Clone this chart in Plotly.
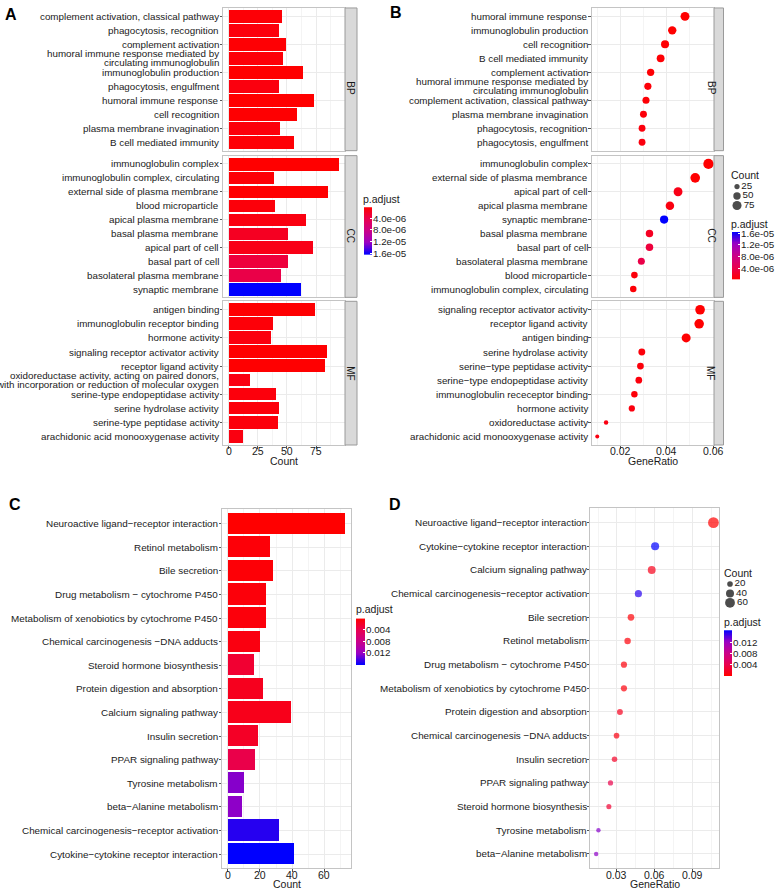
import numpy as np
import plotly.graph_objects as go

W, H = 777, 893
FONT = "Liberation Sans, Arial, Helvetica, sans-serif"
TXT = "#1a1a1a"

# ---------------- Panel A data (GO enrichment, bar) ----------------
a_bp_terms = ["complement activation, classical pathway", "phagocytosis, recognition",
              "complement activation",
              "humoral immune response mediated by<br>circulating immunoglobulin",
              "immunoglobulin production", "phagocytosis, engulfment", "humoral immune response",
              "cell recognition", "plasma membrane invagination", "B cell mediated immunity"]
a_bp_count = [46, 43, 49, 47, 64, 43, 73, 59, 44, 56]
a_bp_padj = [6e-7, 9e-7, 5e-7, 7e-7, 3.2e-7, 1.0e-6, 3.0e-7, 4e-7, 8e-7, 5.5e-7]

a_cc_terms = ["immunoglobulin complex", "immunoglobulin complex, circulating",
              "external side of plasma membrane", "blood microparticle", "apical plasma membrane",
              "basal plasma membrane", "apical part of cell", "basal part of cell",
              "basolateral plasma membrane", "synaptic membrane"]
a_cc_count = [95, 39, 85, 40, 66, 51, 72, 51, 45, 62]
a_cc_padj = [3.0e-7, 6e-7, 3.5e-7, 8e-7, 1.1e-6, 2.0e-6, 1.4e-6, 3.3e-6, 3.9e-6, 1.64e-5]

a_mf_terms = ["antigen binding", "immunoglobulin receptor binding", "hormone activity",
              "signaling receptor activator activity", "receptor ligand activity",
              "oxidoreductase activity, acting on paired donors,<br>with incorporation or reduction of molecular oxygen",
              "serine-type endopeptidase activity", "serine hydrolase activity",
              "serine-type peptidase activity", "arachidonic acid monooxygenase activity"]
a_mf_count = [74, 38, 36, 84, 83, 18, 41, 43, 42, 12]
a_mf_padj = [4e-7, 7e-7, 1.0e-6, 3.5e-7, 3.6e-7, 1.2e-6, 9e-7, 8e-7, 8.5e-7, 1.1e-6]

# ---------------- Panel B data (GO enrichment, dot) ----------------
b_bp_terms = ["humoral immune response", "immunoglobulin production", "cell recognition",
              "B cell mediated immunity", "complement activation",
              "humoral immune response mediated by<br>circulating immunoglobulin",
              "complement activation, classical pathway", "plasma membrane invagination",
              "phagocytosis, recognition", "phagocytosis, engulfment"]
b_bp_ratio = [0.0479, 0.0424, 0.0393, 0.0374, 0.0331, 0.0319, 0.0311, 0.0300, 0.0294, 0.0294]
b_bp_count = [73, 64, 59, 56, 49, 47, 46, 44, 43, 43]
b_bp_padj = [3.0e-7, 3.2e-7, 4e-7, 5.5e-7, 5e-7, 7e-7, 6e-7, 8e-7, 9e-7, 1.0e-6]

b_cc_terms = ["immunoglobulin complex", "external side of plasma membrance", "apical part of cell",
              "apical plasma membrane", "synaptic membrane", "basal plasma membrane",
              "basal part of cell", "basolateral plasma membrane", "blood microparticle",
              "immunoglobulin complex, circulating"]
b_cc_ratio = [0.0580, 0.0523, 0.0449, 0.0414, 0.0389, 0.0326, 0.0326, 0.0291, 0.0261, 0.0256]
b_cc_count = [95, 85, 72, 66, 62, 51, 51, 45, 40, 39]
b_cc_padj = [3.0e-7, 3.5e-7, 1.4e-6, 1.1e-6, 1.64e-5, 2.0e-6, 3.3e-6, 3.9e-6, 8e-7, 6e-7]

b_mf_terms = ["signaling receptor activator activity", "receptor ligand activity", "antigen binding",
              "serine hydrolase activity", "serine\u2212type peptidase activity",
              "serine\u2212type endopeptidase activity", "immunoglobulin receceptor binding",
              "hormone activity", "oxidoreductase activity", "arachidonic acid monooxygenase activity"]
b_mf_ratio = [0.0544, 0.0540, 0.0484, 0.0293, 0.0287, 0.0280, 0.0261, 0.0250, 0.0139, 0.0101]
b_mf_count = [84, 83, 74, 43, 42, 41, 38, 36, 18, 12]
b_mf_padj = [3.5e-7, 3.6e-7, 4e-7, 8e-7, 8.5e-7, 9e-7, 7e-7, 1.0e-6, 1.2e-6, 1.1e-6]

# ---------------- Panel C data (KEGG, bar) ----------------
c_terms = ["Neuroactive ligand\u2212receptor interaction", "Retinol metabolism", "Bile secretion",
           "Drug metabolism \u2212 cytochrome P450", "Metabolism of xenobiotics by cytochrome P450",
           "Chemical carcinogenesis \u2212DNA adducts", "Steroid hormone biosynthesis",
           "Protein digestion and absorption", "Calcium signaling pathway", "Insulin secretion",
           "PPAR signaling pathway", "Tyrosine metabolism", "beta\u2212Alanine metabolism",
           "Chemical carcinogenesis\u2212receptor activation", "Cytokine\u2212cytokine receptor interaction"]
c_count = [73, 26, 28, 24, 24, 20, 16, 22, 39, 19, 17, 10, 9, 32, 41]
c_padj = [1e-4, 5e-4, 4e-4, 6e-4, 6.5e-4, 9e-4, 2.6e-3, 1.6e-3, 1.4e-3, 2.0e-3, 3.8e-3,
          0.0127, 0.0125, 0.0152, 0.0162]

# ---------------- Panel D data (KEGG, dot) ----------------
d_terms = ["Neuroactive ligand\u2212receptor interaction", "Cytokine\u2212cytokine receptor interaction",
           "Calcium signaling pathway", "Chemical carcinogenesis\u2212receptor activation",
           "Bile secretion", "Retinol metabolism", "Drug metabolism \u2212 cytochrome P450",
           "Metabolism of xenobiotics by cytochrome P450", "Protein digestion and absorption",
           "Chemical carcinogenesis \u2212DNA adducts", "Insulin secretion", "PPAR signaling pathway",
           "Steroid hormone biosynthesis", "Tyrosine metabolism", "beta\u2212Alanine metabolism"]
d_ratio = [0.1068, 0.0604, 0.0577, 0.0471, 0.0412, 0.0385, 0.0356, 0.0356, 0.0324, 0.0297,
           0.0281, 0.0249, 0.0236, 0.0153, 0.0135]
d_count = [73, 41, 39, 32, 28, 26, 24, 24, 22, 20, 19, 17, 16, 10, 9]
d_padj = [1e-4, 0.0162, 1.4e-3, 0.0152, 4e-4, 5e-4, 6e-4, 6.5e-4, 1.6e-3, 9e-4, 2.0e-3, 3.8e-3,
          2.6e-3, 0.0127, 0.0125]

# ---------------- ticks / legend values ----------------
facet_names = ["BP", "CC", "MF"]
go_padj_ticks = [4e-6, 8e-6, 1.2e-5, 1.6e-5]
go_padj_ticktext = ["4.0e-06", "8.0e-06", "1.2e-05", "1.6e-05"]
kegg_padj_ticks = [0.004, 0.008, 0.012]
kegg_padj_ticktext = ["0.004", "0.008", "0.012"]
b_size_legend = [25, 50, 75]
d_size_legend = [20, 40, 60]
a_x_ticks = [0, 25, 50, 75]
b_x_ticks = [0.02, 0.04, 0.06]
c_x_ticks = [0, 20, 40, 60]
d_x_ticks = [0.03, 0.06, 0.09]

# ---------------- styling ----------------
CS = [[0, "#FF0000"], [0.25, "#E80050"], [0.5, "#CA0089"], [0.75, "#9A00C3"], [1, "#0000FF"]]
GRID = "#EBEBEB"
MINOR = "#F4F4F4"
BORDER = "#C4C4C4"


def X(px):
    return px / W


def Y(py):
    return 1 - py / H


fig = go.Figure()
layout = {}
annotations = []
shapes = []
counter = [0]


def new_axes(xpx, ypx, xkw, ykw):
    counter[0] += 1
    i = counter[0]
    sfx = "" if i == 1 else str(i)
    layout["xaxis" + sfx] = dict(domain=[X(xpx[0]), X(xpx[1])], anchor="y" + sfx, **xkw)
    layout["yaxis" + sfx] = dict(domain=[Y(ypx[1]), Y(ypx[0])], anchor="x" + sfx, **ykw)
    return "x" + sfx, "y" + sfx


def pad_range(lo, hi):
    d = (hi - lo) * 0.05
    return [lo - d, hi + d]


def xaxis_kw(rng, ticks, minor_dt, show_ticks):
    return dict(range=rng, tickvals=ticks, showgrid=True, gridcolor=GRID, gridwidth=1,
                minor=dict(dtick=minor_dt, tick0=0, showgrid=True, gridcolor=MINOR, gridwidth=1),
                zeroline=False, showline=True, mirror=True, linecolor=BORDER, linewidth=1,
                ticks="outside" if show_ticks else "", ticklen=2.5, tickcolor="#555",
                showticklabels=False)


def yaxis_kw(terms):
    n = len(terms)
    return dict(type="category", categoryorder="array", categoryarray=terms,
                range=[n - 1 + 0.6, -0.6], showgrid=True, gridcolor=GRID, gridwidth=1,
                zeroline=False, showline=True, mirror=True, linecolor=BORDER, linewidth=1,
                ticks="outside", ticklen=2.5, tickcolor="#555", showticklabels=False)


def category_labels(terms, yref, xpx, size):
    for i, t in enumerate(terms):
        parts = t.split("<br>")
        m = len(parts)
        for k, p in enumerate(parts):
            annotations.append(dict(text=p, xref="paper", yref=yref, x=X(xpx), y=i,
                                    xanchor="right", yanchor="middle", showarrow=False,
                                    borderpad=0, yshift=4.35 * (m - 1) - 8.7 * k,
                                    font=dict(size=size, color=TXT, family=FONT)))


def x_tick_labels(xref, ticks, cy):
    for v in ticks:
        annotations.append(dict(text=str(v), xref=xref, x=v, yref="paper", y=Y(cy),
                                xanchor="center", yanchor="middle", showarrow=False, borderpad=0,
                                font=dict(size=10.5, color=TXT, family=FONT)))


def strip(xpx, ypx, label):
    shapes.append(dict(type="rect", xref="paper", yref="paper", x0=X(xpx[0]), x1=X(xpx[1]),
                       y0=Y(ypx[1]), y1=Y(ypx[0]), fillcolor="#D9D9D9",
                       line=dict(color="#9A9A9A", width=1), layer="above"))
    annotations.append(dict(text=label, xref="paper", yref="paper", x=X((xpx[0] + xpx[1]) / 2),
                            y=Y((ypx[0] + ypx[1]) / 2), textangle=90, showarrow=False,
                            font=dict(size=10, color=TXT, family=FONT)))


facet_y = [(4, 148), (153, 296), (300, 445)]

# ---------------- Panel A ----------------
a_terms = [a_bp_terms, a_cc_terms, a_mf_terms]
a_counts = [a_bp_count, a_cc_count, a_mf_count]
a_padjs = [a_bp_padj, a_cc_padj, a_mf_padj]
go_all_padj = a_bp_padj + a_cc_padj + a_mf_padj
go_cmin, go_cmax = min(go_all_padj), max(go_all_padj)
a_range = pad_range(0, max(max(c) for c in a_counts))
for k in range(3):
    xr, yr = new_axes((223, 345), facet_y[k],
                      xaxis_kw(a_range, a_x_ticks, 12.5, k == 2), yaxis_kw(a_terms[k]))
    fig.add_trace(go.Bar(x=a_counts[k], y=a_terms[k], orientation="h", width=0.9,
                         marker=dict(color=a_padjs[k], colorscale=CS, cmin=go_cmin, cmax=go_cmax,
                                     line=dict(width=0)),
                         xaxis=xr, yaxis=yr, showlegend=False))
    category_labels(a_terms[k], yr, 220, 9.8)
    strip((345, 357), facet_y[k], facet_names[k])
    if k == 2:
        x_tick_labels(xr, a_x_ticks, 451)

# ---------------- Panel B ----------------
b_terms = [b_bp_terms, b_cc_terms, b_mf_terms]
b_ratios = [b_bp_ratio, b_cc_ratio, b_mf_ratio]
b_counts = [b_bp_count, b_cc_count, b_mf_count]
b_padjs = [b_bp_padj, b_cc_padj, b_mf_padj]
b_all_ratio = b_bp_ratio + b_cc_ratio + b_mf_ratio
b_range = pad_range(min(b_all_ratio), max(b_all_ratio))
b_maxc = max(max(c) for c in b_counts)
b_sref = 2.0 * b_maxc / (10.2 ** 2)
for k in range(3):
    xr, yr = new_axes((591.7, 714), facet_y[k],
                      xaxis_kw(b_range, b_x_ticks, 0.01, k == 2), yaxis_kw(b_terms[k]))
    fig.add_trace(go.Scatter(x=b_ratios[k], y=b_terms[k], mode="markers",
                             marker=dict(size=b_counts[k], sizemode="area", sizeref=b_sref, sizemin=2,
                                         color=b_padjs[k], colorscale=CS, cmin=go_cmin, cmax=go_cmax,
                                         line=dict(width=0), opacity=1),
                             xaxis=xr, yaxis=yr, showlegend=False, cliponaxis=False))
    category_labels(b_terms[k], yr, 589, 9.8)
    strip((714, 723.5), facet_y[k], facet_names[k])
    if k == 2:
        x_tick_labels(xr, b_x_ticks, 451)

# ---------------- Panel C ----------------
k_cmin, k_cmax = min(c_padj), max(c_padj)
c_range = pad_range(0, max(c_count))
xr, yr = new_axes((222, 351), (510, 872), xaxis_kw(c_range, c_x_ticks, 10, True), yaxis_kw(c_terms))
fig.add_trace(go.Bar(x=c_count, y=c_terms, orientation="h", width=0.9,
                     marker=dict(color=c_padj, colorscale=CS, cmin=k_cmin, cmax=k_cmax,
                                 line=dict(width=0)),
                     xaxis=xr, yaxis=yr, showlegend=False))
category_labels(c_terms, yr, 219, 9.9)
x_tick_labels(xr, c_x_ticks, 879)

# ---------------- Panel D ----------------
d_range = pad_range(min(d_ratio), max(d_ratio))
d_sref = 2.0 * max(d_count) / (10.8 ** 2)
xr, yr = new_axes((590.3, 719.3), (509, 872), xaxis_kw(d_range, d_x_ticks, 0.015, True), yaxis_kw(d_terms))
fig.add_trace(go.Scatter(x=d_ratio, y=d_terms, mode="markers",
                         marker=dict(size=d_count, sizemode="area", sizeref=d_sref, sizemin=2.2,
                                     color=d_padj, colorscale=CS, cmin=k_cmin, cmax=k_cmax,
                                     line=dict(width=0)),
                         xaxis=xr, yaxis=yr, showlegend=False, cliponaxis=False))
category_labels(d_terms, yr, 587.5, 9.9)
x_tick_labels(xr, d_x_ticks, 879)


# ---------------- colour legends ----------------
def colour_legend(xpx, ypx, cmin, cmax, ticks, ticktext, low_on_top, title_xy):
    vals = np.linspace(cmin, cmax, 80)
    rng = [cmax, cmin] if low_on_top else [cmin, cmax]
    xr, yr = new_axes(xpx, ypx,
                      dict(range=[-0.5, 0.5], visible=False, fixedrange=True),
                      dict(range=rng, side="right", tickvals=ticks, ticktext=ticktext,
                           showgrid=False, zeroline=False, showline=False,
                           ticks="inside", ticklen=2, tickcolor="white",
                           tickfont=dict(size=9.8, color=TXT, family=FONT)))
    fig.add_trace(go.Heatmap(z=[[v] for v in vals], x=[0], y=vals, colorscale=CS,
                             zmin=cmin, zmax=cmax, showscale=False, hoverinfo="skip",
                             xaxis=xr, yaxis=yr))
    annotations.append(dict(text="p.adjust", xref="paper", yref="paper", x=X(title_xy[0]),
                            y=Y(title_xy[1]), xanchor="left", yanchor="middle", showarrow=False,
                            borderpad=0, font=dict(size=10.5, color=TXT, family=FONT)))


colour_legend((364, 372), (205, 253), go_cmin, go_cmax, go_padj_ticks, go_padj_ticktext, True, (362, 197))
colour_legend((732, 740), (230, 278), go_cmin, go_cmax, go_padj_ticks, go_padj_ticktext, False, (730, 221.5))
colour_legend((356, 365), (620, 667), k_cmin, k_cmax, kegg_padj_ticks, kegg_padj_ticktext, True, (355, 610))
colour_legend((724, 732), (632, 678), k_cmin, k_cmax, kegg_padj_ticks, kegg_padj_ticktext, False, (723, 624))


# ---------------- size legends ----------------
def size_legend(xpx, ypx, vals, sref, title_xy):
    labels = [str(v) for v in vals]
    xr, yr = new_axes(xpx, ypx,
                      dict(range=[-1, 1], visible=False, fixedrange=True),
                      dict(range=[len(vals) - 0.5, -0.5], visible=False, fixedrange=True))
    fig.add_trace(go.Scatter(x=[0] * len(vals), y=list(range(len(vals))), mode="markers+text",
                             text=labels, textposition="middle right",
                             textfont=dict(size=9.8, color=TXT, family=FONT),
                             marker=dict(size=vals, sizemode="area", sizeref=sref, color="black",
                                         line=dict(width=0)),
                             xaxis=xr, yaxis=yr, showlegend=False, cliponaxis=False,
                             hoverinfo="skip"))
    annotations.append(dict(text="Count", xref="paper", yref="paper", x=X(title_xy[0]),
                            y=Y(title_xy[1]), xanchor="left", yanchor="middle", showarrow=False,
                            borderpad=0, font=dict(size=10.5, color=TXT, family=FONT)))


size_legend((733, 741), (179.5, 208), b_size_legend, b_sref, (730, 172.5))
size_legend((726, 734), (580.5, 609), d_size_legend, d_sref, (723, 574))

# ---------------- axis titles and panel letters ----------------
for txt, cx, cy in [("Count", 284, 461), ("GeneRatio", 653, 461), ("Count", 286.5, 888),
                    ("GeneRatio", 655, 888)]:
    annotations.append(dict(text=txt, xref="paper", yref="paper", x=X(cx), y=Y(cy),
                            xanchor="center", yanchor="middle", showarrow=False, borderpad=0,
                            font=dict(size=10.5, color=TXT, family=FONT)))
for txt, cx, cy in [("A", 11, 11), ("B", 396, 9), ("C", 15, 505), ("D", 395, 505)]:
    annotations.append(dict(text="<b>" + txt + "</b>", xref="paper", yref="paper", x=X(cx), y=Y(cy),
                            xanchor="center", yanchor="middle", showarrow=False, borderpad=0,
                            font=dict(size=16, color="black", family=FONT)))

fig.update_layout(**layout)
fig.update_layout(width=W, height=H, margin=dict(l=0, r=0, t=0, b=0),
                  paper_bgcolor="white", plot_bgcolor="white",
                  font=dict(family=FONT, color=TXT), showlegend=False,
                  annotations=annotations, shapes=shapes, bargap=0)
fig.write_html("out.html", config={"displayModeBar": False},
               post_script="document.body.style.margin='0px';document.body.style.overflow='hidden';")
